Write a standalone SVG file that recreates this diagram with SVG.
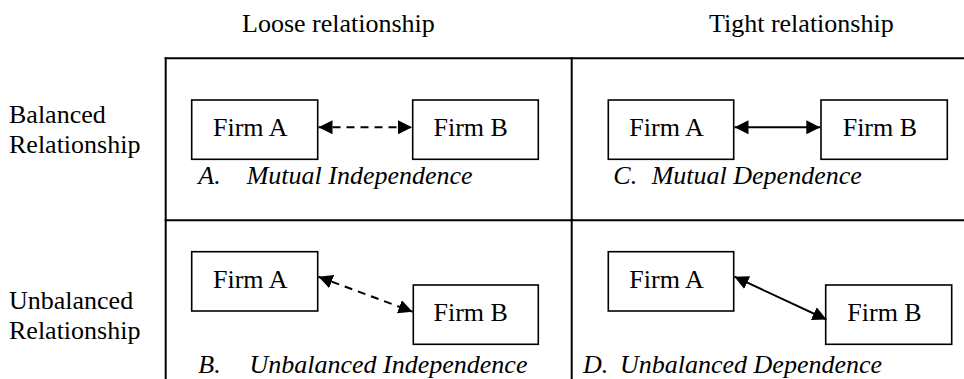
<svg xmlns="http://www.w3.org/2000/svg" width="964" height="379" viewBox="0 0 964 379">
  <style>
    text { font-family: "Liberation Serif", "Times New Roman", serif; font-size: 26px; fill: #000; }
    .cap { font-style: italic; }
    .frame { stroke: #000; stroke-width: 2; fill: none; }
    .box { fill: #fff; stroke: #000; stroke-width: 1.6; }
    .link { stroke: #000; stroke-width: 2; fill: none; }
    .dash { stroke-dasharray: 8 6; }
  </style>
  <defs>
    <marker id="head" viewBox="0 0 14 14" refX="14" refY="7" markerWidth="14" markerHeight="14" markerUnits="userSpaceOnUse" orient="auto-start-reverse">
      <path d="M0,0 L14,7 L0,14 Z" fill="#000"/>
    </marker>
  </defs>

  <!-- column and row headings -->
  <g id="headings">
    <text x="242" y="32">Loose relationship</text>
    <text x="709" y="32">Tight relationship</text>
    <text x="9" y="123">Balanced</text>
    <text x="9" y="153">Relationship</text>
    <text x="9" y="308.5">Unbalanced</text>
    <text x="9" y="338.5">Relationship</text>
  </g>

  <!-- quadrant grid -->
  <g id="grid" class="frame">
    <line x1="165.7" y1="57.3" x2="165.7" y2="379"/>
    <line x1="571.7" y1="57.3" x2="571.7" y2="379"/>
    <line x1="164.7" y1="58.3" x2="964" y2="58.3"/>
    <line x1="164.7" y1="220.3" x2="964" y2="220.3"/>
  </g>

  <!-- quadrant A: mutual independence -->
  <g id="a-firm-a">
    <rect class="box" x="191.7" y="100" width="126" height="59.3"/>
    <text x="213" y="136">Firm A</text>
  </g>
  <g id="a-firm-b">
    <rect class="box" x="412.7" y="100" width="125.6" height="59.3"/>
    <text x="433.5" y="136">Firm B</text>
  </g>
  <text class="cap" y="184"><tspan x="198.3">A.</tspan><tspan x="246.7">Mutual Independence</tspan></text>

  <!-- quadrant C: mutual dependence -->
  <g id="c-firm-a">
    <rect class="box" x="608.3" y="100" width="125.4" height="59.3"/>
    <text x="629.3" y="136">Firm A</text>
  </g>
  <g id="c-firm-b">
    <rect class="box" x="821" y="100" width="126.3" height="59.3"/>
    <text x="842.7" y="136">Firm B</text>
  </g>
  <text class="cap" y="184"><tspan x="613.3">C.</tspan><tspan x="651.7">Mutual Dependence</tspan></text>

  <!-- quadrant B: unbalanced independence -->
  <g id="b-firm-a">
    <rect class="box" x="191.7" y="251.7" width="126" height="59.3"/>
    <text x="213" y="287.7">Firm A</text>
  </g>
  <g id="b-firm-b">
    <rect class="box" x="413.3" y="285" width="125" height="59.3"/>
    <text x="433.5" y="321">Firm B</text>
  </g>
  <text class="cap" y="373"><tspan x="198.3">B.</tspan><tspan x="249.5">Unbalanced Independence</tspan></text>

  <!-- quadrant D: unbalanced dependence -->
  <g id="d-firm-a">
    <rect class="box" x="608.3" y="251.7" width="125.4" height="59.3"/>
    <text x="629.3" y="287.7">Firm A</text>
  </g>
  <g id="d-firm-b">
    <rect class="box" x="825.7" y="285" width="126" height="59.3"/>
    <text x="847.3" y="321">Firm B</text>
  </g>
  <text class="cap" y="373"><tspan x="583">D.</tspan><tspan x="620">Unbalanced Dependence</tspan></text>

  <!-- connectors -->
  <g id="connectors">
    <line class="link dash" x1="318.5" y1="127.3" x2="412" y2="127.3" marker-start="url(#head)" marker-end="url(#head)"/>
    <line class="link" x1="734.5" y1="127.3" x2="820.3" y2="127.3" marker-start="url(#head)" marker-end="url(#head)"/>
    <line class="link dash" x1="318.5" y1="276.7" x2="412.5" y2="311.7" marker-start="url(#head)" marker-end="url(#head)"/>
    <line class="link" x1="734.5" y1="276.7" x2="826.5" y2="319.5" marker-start="url(#head)" marker-end="url(#head)"/>
  </g>
</svg>
